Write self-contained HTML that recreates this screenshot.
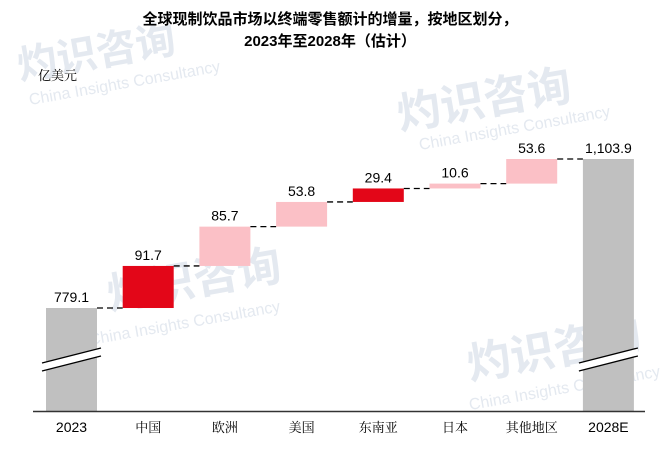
<!DOCTYPE html>
<html><head><meta charset="utf-8"><style>
html,body{margin:0;padding:0;background:#fff;}
svg{display:block;font-family:"Liberation Sans","Noto Sans CJK SC",sans-serif;}
</style></head><body>
<svg id="c" width="660" height="465" viewBox="0 0 660 465">
<g fill="#e4e9f0">
<text x="20" y="80" font-size="40" font-weight="bold" transform="rotate(-10 20 80)">灼识咨询</text>
<text x="30" y="105" font-size="16" transform="rotate(-10 30 105)">China Insights Consultancy</text>
<text x="400" y="130" font-size="44" font-weight="bold" transform="rotate(-10 400 130)">灼识咨询</text>
<text x="420" y="150" font-size="16" transform="rotate(-10 420 150)">China Insights Consultancy</text>
<text x="110" y="310" font-size="44" font-weight="bold" transform="rotate(-10 110 310)">灼识咨询</text>
<text x="90" y="345" font-size="16" transform="rotate(-10 90 345)">China Insights Consultancy</text>
<text x="470" y="380" font-size="44" font-weight="bold" transform="rotate(-10 470 380)">灼识咨询</text>
<text x="470" y="410" font-size="16" transform="rotate(-10 470 410)">China Insights Consultancy</text>
</g>
<text x="330" y="24" text-anchor="middle" font-size="15" font-weight="bold" fill="#000">全球现制饮品市场以终端零售额计的增量，按地区划分，</text>
<text x="330" y="46" text-anchor="middle" font-size="15" font-weight="bold" fill="#000">2023年至2028年（估计）</text>
<text x="38" y="80" font-size="13" fill="#000" font-family="'Liberation Serif','Noto Serif CJK SC',serif">亿美元</text>
<g id="bars"></g>
<line x1="33" y1="411.5" x2="645" y2="411.5" stroke="#333" stroke-width="1.5"/>
</svg>
<script>
const categories = ["2023","中国","欧洲","美国","东南亚","日本","其他地区","2028E"];
const values = [779.1, 91.7, 85.7, 53.8, 29.4, 10.6, 53.6, 1103.9];
const labels = ["779.1","91.7","85.7","53.8","29.4","10.6","53.6","1,103.9"];
const kinds = ["total","dark","light","light","dark","light","light","total"];

const svg = document.getElementById('bars');
const NS = 'http://www.w3.org/2000/svg';
const axisMin = 554.6, baseY = 411, pxPerUnit = 149 / (1103.9 - 779.1);
function y(v){ return baseY - (v - axisMin) * pxPerUnit; }
const x0 = 46, step = 76.7, bw = 51;
function x(i){ return x0 + i * step; }
const colors = {total:"#c0c0c0", dark:"#e30618", light:"#fbc0c6"};
function mk(tag, attrs){ const e=document.createElementNS(NS,tag); for(const k in attrs) e.setAttribute(k,attrs[k]); svg.appendChild(e); return e; }

let cum = 0;
const tops = [];
for (let i=0;i<categories.length;i++){
  let lo, hi;
  if (kinds[i]==="total"){ lo = axisMin; hi = values[i]; cum = values[i]; }
  else { lo = cum; hi = cum + values[i]; cum = hi; }
  const r = mk('rect',{x:x(i), y:y(hi), width:bw, height:y(lo)-y(hi), fill:colors[kinds[i]]});
  
  
  tops.push(hi);
  const t = mk('text',{x:x(i)+bw/2, y:y(hi)-6, 'text-anchor':'middle', 'font-size':14, fill:'#000'});
  t.textContent = labels[i];
  
  
  const isNum = /^\d/.test(categories[i]);
  const c = mk('text',{x:x(i)+bw/2, y:432, 'text-anchor':'middle', 'font-size':isNum?14:13, fill:'#000'});
  if (!isNum) c.setAttribute('font-family', "'Liberation Serif','Noto Serif CJK SC',serif");
  c.textContent = categories[i];
  
  
  if (i>0){
    const l = mk('line',{x1:x(i-1)+bw, x2:x(i), y1:y(tops[i-1]), y2:y(tops[i-1]), stroke:'#000', 'stroke-width':1.3, 'stroke-dasharray':'6,4'});
    
    
  }
}
[0,7].forEach(i=>{
  const g = document.createElementNS(NS,'g');
  
  
  svg.appendChild(g);
  const x1 = x(i)-4, x2 = x(i)+bw+4;
  const p = document.createElementNS(NS,'polygon');
  p.setAttribute('points', `${x1},363 ${x2},348 ${x2},356 ${x1},371`);
  p.setAttribute('fill','#fff');
  g.appendChild(p);
  [[363,348],[371,356]].forEach(([a,b])=>{
    const l = document.createElementNS(NS,'line');
    l.setAttribute('x1',x1); l.setAttribute('y1',a); l.setAttribute('x2',x2); l.setAttribute('y2',b);
    l.setAttribute('stroke','#000'); l.setAttribute('stroke-width','1.3');
    g.appendChild(l);
  });
});
</script>
</body></html>
